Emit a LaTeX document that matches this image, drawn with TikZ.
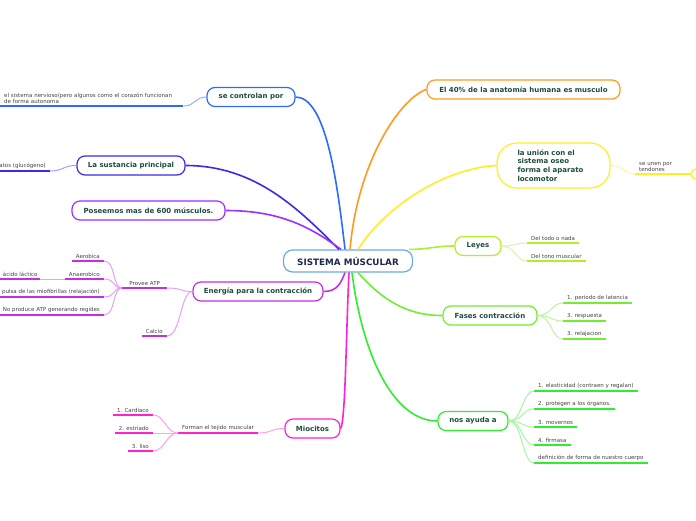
\documentclass[tikz,border=0pt]{standalone}
\usepackage{fontspec}
\setmainfont{DejaVu Sans}
\definecolor{rootborder}{HTML}{6AAEE0}
\definecolor{roottext}{HTML}{1B2A4A}
\definecolor{topictext}{HTML}{1E4D3B}
\definecolor{leaftext}{HTML}{444444}
\definecolor{ctrlline}{HTML}{2D6BFF}
\definecolor{ctrlsoft}{HTML}{93B0FF}
\definecolor{sustline}{HTML}{3A2BE8}
\definecolor{sustsoft}{HTML}{A79EF2}
\definecolor{poseline}{HTML}{9B30FF}
\definecolor{enerline}{HTML}{C42FE6}
\definecolor{enersoft}{HTML}{E8A0F7}
\definecolor{miocline}{HTML}{FF22D4}
\definecolor{miocsoft}{HTML}{FFA0EE}
\definecolor{cuarline}{HTML}{FF9A1F}
\definecolor{unionline}{HTML}{FFEE22}
\definecolor{unionsoft}{HTML}{FFF59E}
\definecolor{leyesline}{HTML}{B2EE2C}
\definecolor{leyessoft}{HTML}{D8F7A0}
\definecolor{fasesline}{HTML}{6FEE32}
\definecolor{fasessoft}{HTML}{B8F7A0}
\definecolor{ayudaline}{HTML}{2EEE2E}
\definecolor{ayudasoft}{HTML}{A6F7A6}
\newcommand\rootfont{\fontsize{8.8}{10}\selectfont\bfseries}
\newcommand\topicfont{\fontsize{7}{8.7}\selectfont\bfseries}
\newcommand\leaffont{\fontsize{5.5}{6.2}\selectfont}
\tikzset{
  root/.style={rectangle, rounded corners=9pt, draw=rootborder, fill=white, line width=1.2pt, minimum width=129pt, minimum height=22pt, text=roottext, font=\rootfont},
  topic/.style={rectangle, rounded corners=8pt, draw=#1, fill=white, line width=1.2pt, minimum height=19pt, text=topictext, font=\topicfont},
  leaf/.style={inner xsep=4pt, inner ysep=2.5pt, text=leaftext, font=\leaffont, align=left, append after command={(\tikzlastnode.south west) edge[draw=#1, line width=1.8pt] (\tikzlastnode.south east)}},
  branch/.style={draw=#1, line width=1.6pt},
  twig/.style={draw=#1, line width=1pt}
}

\begin{document}
\begin{tikzpicture}[x=1pt, y=-1pt]

\useasboundingbox (0,0) rectangle (696,520);
\fill[white] (0,0) rectangle (696,520);

% central topic and main topics
\node[root] (root) at (348,261) {SISTEMA MÚSCULAR};
\node[topic=ctrlline, minimum width=88pt] (ctrl) at (251,97) {se controlan por};
\node[topic=sustline, minimum width=108pt] (sust) at (131,165.5) {La sustancia principal};
\node[topic=poseline, minimum width=153pt] (pose) at (148.5,210.5) {Poseemos mas de 600 músculos.};
\node[topic=enerline, minimum width=130pt] (ener) at (258,291.5) {Energía para la contracción};
\node[topic=miocline, minimum width=55pt] (mioc) at (312.5,428.5) {Miocitos};
\node[topic=cuarline, minimum width=193pt] (cuar) at (523.5,89.5) {El 40\% de la anatomía humana es musculo};
\node[topic=unionline, rounded corners=20pt, text width=72pt, inner xsep=20.5pt, minimum height=45pt, align=left] (union) at (553.5,165.5) {la unión con el\\sistema oseo\\forma el aparato\\locomotor};
\node[topic=leyesline, minimum width=46pt] (leyes) at (478,246) {Leyes};
\node[topic=fasesline, minimum width=94pt] (fases) at (490,315.5) {Fases contracción};
\node[topic=ayudaline, minimum width=70pt] (ayuda) at (473,421) {nos ayuda a};

% left side leaves
\node[leaf=ctrlline, anchor=south west, text width=175pt] (nerv) at (0,106) {el sistema nervioso(pero algunos como el corazón funcionan\\de forma autonoma};
\node[leaf=sustline, anchor=south east] (gluc) at (50,171) {atos (glucógeno)};

\node[leaf=enerline, anchor=south west, minimum width=45pt] (atp) at (122,288) {Provee ATP};
\node[leaf=enerline, anchor=south east, minimum width=25pt] (calcio) at (167,336) {Calcio};
\foreach \nm/\y/\txt in {aero/261/Aerobica, anae/279/Anaerobico, miof/297/pulsa de las miofibrillas (relajación), noatp/315/No produce ATP generando regides} {
  \node[leaf=enerline, anchor=south east] (\nm) at (104,\y) {\txt};
}
\node[leaf=enerline, anchor=south west, minimum width=40pt, inner xsep=1pt] (lact) at (0,279) {ácido láctico};

\node[leaf=miocline, anchor=south west] (tejido) at (178,433) {Forman el tejido muscular};
\foreach \nm/\y/\txt in {card/415/1. Cardiaco, estr/433/2. estriado, liso/451/3. liso} {
  \node[leaf=miocline, anchor=south east] (\nm) at (153,\y) {\txt};
}

% right side leaves
\node[leaf=unionline, anchor=south west, text width=50pt] (tend) at (635,174) {se unen por\\tendones};
\node[topic=unionline, minimum width=20pt, minimum height=10pt, rounded corners=4pt, anchor=west] (tendbox) at (691,174) {};

\foreach \nm/\y/\txt in {nada/243/Del todo o nada, tono/261/Del tono muscular} {
  \node[leaf=leyesline, anchor=south west] (\nm) at (527,\y) {\txt};
}
\foreach \nm/\y/\txt in {lat/303/1. periodo de latencia, resp/321/3. respuesta, rela/339/3. relajacion} {
  \node[leaf=fasesline, anchor=south west] (\nm) at (563,\y) {\txt};
}
\foreach \nm/\y/\txt in {elas/391/1. elasticidad (contraen y regalan), prot/409/2. protegen a los órganos., mov/427/3. movernos, firm/445/4. firmasa, forma/463/definición de forma de nuestro cuerpo} {
  \node[leaf=ayudaline, anchor=south west] (\nm) at (534,\y) {\txt};
}

% main branches
\draw[branch=ctrlline] (ctrl.east) .. controls +(30,0) and +(-8,-70) .. ([xshift=-3pt]root.north);
\draw[branch=sustline] (sust.east) .. controls +(70,0) and +(-40,-40) .. ([xshift=-9pt]root.north);
\draw[branch=poseline] (pose.east) .. controls +(55,0) and +(-30,-22) .. ([xshift=-7pt]root.north);
\draw[branch=enerline] (ener.east) .. controls +(14,0) and +(-4,10) .. ([xshift=-3pt]root.south);
\draw[branch=miocline] (mioc.east) .. controls +(5,-8) and +(-3,60) .. ([xshift=1pt]root.south);
\draw[branch=cuarline] ([xshift=2pt]root.north) .. controls +(8,-90) and +(-25,8) .. (cuar.west);
\draw[branch=unionline] ([xshift=10pt]root.north) .. controls +(25,-40) and +(-55,3) .. (union.west);
\draw[branch=leyesline] ([xshift=-4pt]root.north east) .. controls +(20,0) and +(-20,0) .. (leyes.west);
\draw[branch=fasesline] ([xshift=10pt]root.south) .. controls +(25,28) and +(-35,0) .. (fases.west);
\draw[branch=ayudaline] ([xshift=4pt]root.south) .. controls +(10,80) and +(-45,0) .. (ayuda.west);

% sub branches
\draw[twig=ctrlsoft] (nerv.south east) .. controls +(12,0) and +(-12,0) .. (ctrl.west);
\draw[twig=sustsoft] (gluc.south east) .. controls +(14,0) and +(-14,0) .. (sust.west);
\draw[twig=enersoft] (atp.south east) .. controls +(14,0) and +(-12,0) .. (ener.west);
\draw[twig=enersoft] (calcio.south east) .. controls +(14,0) and +(-12,0) .. (ener.west);
\foreach \nm in {aero,anae,miof,noatp} {
  \draw[twig=enersoft] (\nm.south east) .. controls +(12,0) and +(-10,0) .. (atp.south west);
}
\draw[twig=enersoft] (lact.south east) -- (anae.south west);
\draw[twig=miocsoft] (tejido.south east) .. controls +(14,0) and +(-14,0) .. (mioc.west);
\foreach \nm in {card,estr,liso} {
  \draw[twig=miocsoft] (\nm.south east) .. controls +(12,0) and +(-12,0) .. (tejido.south west);
}
\draw[twig=unionsoft] (union.east) .. controls +(14,0) and +(-12,0) .. (tend.south west);
\draw[twig=unionsoft] (tend.south east) -- (tendbox.west);
\foreach \nm in {nada,tono} {
  \draw[twig=leyessoft] (leyes.east) .. controls +(14,0) and +(-12,0) .. (\nm.south west);
}
\foreach \nm in {lat,resp,rela} {
  \draw[twig=fasessoft] (fases.east) .. controls +(14,0) and +(-12,0) .. (\nm.south west);
}
\foreach \nm in {elas,prot,mov,firm,forma} {
  \draw[twig=ayudasoft] (ayuda.east) .. controls +(14,0) and +(-12,0) .. (\nm.south west);
}

\end{tikzpicture}
\end{document}
